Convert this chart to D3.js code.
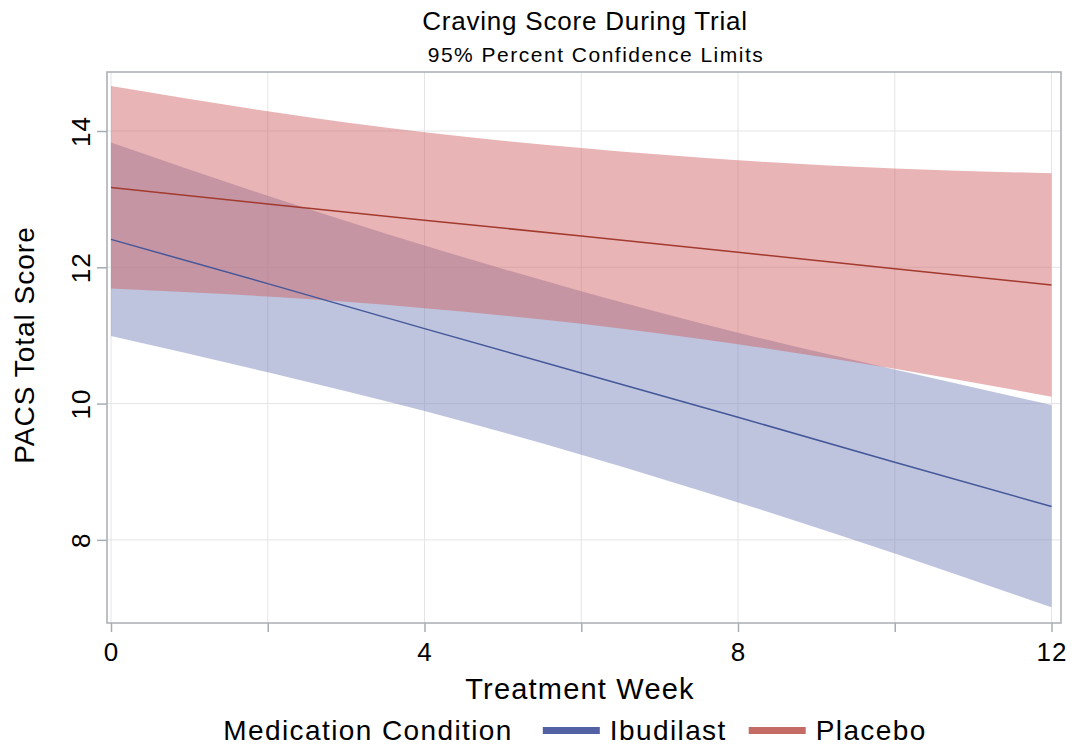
<!DOCTYPE html>
<html>
<head>
<meta charset="utf-8">
<script src="https://cdn.jsdelivr.net/npm/d3@7"></script>
<style>
  body { margin: 0; background: #fff; }
  svg text { font-family: "Liberation Sans", Arial, sans-serif; fill: #000; }
  .grid line { stroke: #e4e4e4; stroke-width: 1; }
  .axis path { display: none; }
  .axis line { stroke: #a8adb2; stroke-width: 1.5; }
</style>
</head>
<body>
<div id="chart"></div>
<script>
// values
const weeks = [0, 2, 4, 6, 8, 10, 12];
const ibudilastFit   = [12.41, 11.76, 11.10, 10.45, 9.80, 9.14, 8.49];
const ibudilastUpper = [13.83, 13.05, 12.32, 11.65, 11.04, 10.50, 9.98];
const ibudilastLower = [10.99, 10.46, 9.89, 9.25, 8.55, 7.80, 7.01];
const placeboFit     = [13.17, 12.93, 12.69, 12.46, 12.22, 11.98, 11.74];
const placeboUpper   = [14.66, 14.29, 13.98, 13.75, 13.57, 13.45, 13.38];
const placeboLower   = [11.69, 11.57, 11.40, 11.17, 10.87, 10.51, 10.10];

const xTicks = [0, 2, 4, 6, 8, 10, 12];
const xTickLabels = [0, 4, 8, 12];
const yTicks = [8, 10, 12, 14];
const groups = ["Ibudilast", "Placebo"];

const width = 1075, height = 747;
const frame = {left: 107, right: 1061, top: 72, bottom: 623};

const svg = d3.select("#chart").append("svg")
    .attr("width", width)
    .attr("height", height);

let xScale = d3.scaleLinear().domain([0, 12]).range([111, 1051.5]);
let yScale = d3.scaleLinear().domain([6.78, 14.866]).range([frame.bottom, frame.top]);

// grid
let grid = svg.append("g").attr("class", "grid");
grid.selectAll(".gx").data(xTicks).enter().append("line")
    .attr("x1", d => xScale(d)).attr("x2", d => xScale(d))
    .attr("y1", frame.top).attr("y2", frame.bottom);
grid.selectAll(".gy").data(yTicks).enter().append("line")
    .attr("x1", frame.left).attr("x2", frame.right)
    .attr("y1", d => yScale(d)).attr("y2", d => yScale(d));

// bands + fit lines
const series = [
    {name: "Ibudilast", fit: ibudilastFit, upper: ibudilastUpper, lower: ibudilastLower,
     band: "rgb(117,130,183)", line: "#44579a", key: "#5161a3"},
    {name: "Placebo", fit: placeboFit, upper: placeboUpper, lower: placeboLower,
     band: "rgb(208,96,98)", line: "#a23a2e", key: "#c46b66"}
];

let area = d3.area()
    .x(d => xScale(d.w))
    .y0(d => yScale(d.lo))
    .y1(d => yScale(d.hi))
    .curve(d3.curveMonotoneX);

let line = d3.line()
    .x(d => xScale(d.w))
    .y(d => yScale(d.v));

series.forEach(s => {
    let pts = weeks.map((w, i) => ({w: w, lo: s.lower[i], hi: s.upper[i]}));
    svg.append("path")
        .datum(pts)
        .attr("d", area)
        .attr("fill", s.band)
        .attr("fill-opacity", 0.47);
});
series.forEach(s => {
    let pts = weeks.map((w, i) => ({w: w, v: s.fit[i]}));
    svg.append("path")
        .datum(pts)
        .attr("d", line)
        .attr("fill", "none")
        .attr("stroke", s.line)
        .attr("stroke-width", 1.5);
});

// frame
svg.append("rect")
    .attr("x", frame.left).attr("y", frame.top)
    .attr("width", frame.right - frame.left)
    .attr("height", frame.bottom - frame.top)
    .attr("fill", "none")
    .attr("stroke", "#a8adb2")
    .attr("stroke-width", 1.5);

// axes
let xAxis = d3.axisBottom(xScale).tickValues(xTicks).tickSize(9).tickPadding(11)
    .tickFormat(d => xTickLabels.includes(d) ? d : "");
let xAx = svg.append("g").attr("class", "axis")
    .attr("transform", "translate(0," + frame.bottom + ")")
    .call(xAxis);
xAx.selectAll("text").style("font-size", "26px").style("letter-spacing", "1px");

let yAxis = d3.axisLeft(yScale).tickValues(yTicks).tickSize(10).tickPadding(0)
    .tickFormat(d => d);
let yAx = svg.append("g").attr("class", "axis")
    .attr("transform", "translate(" + frame.left + ",0)")
    .call(yAxis);
yAx.selectAll("text")
    .style("font-size", "26px")
    .style("letter-spacing", "1px")
    .attr("text-anchor", "middle")
    .attr("x", 0).attr("dy", 0)
    .attr("transform", "translate(-17.5,0) rotate(-90)");

// titles
svg.append("text")
    .text("Craving Score During Trial")
    .style("font-size", "26px")
    .style("letter-spacing", "0.8px")
    .style("text-anchor", "middle")
    .attr("x", 585).attr("y", 30);
svg.append("text")
    .text("95% Percent Confidence Limits")
    .style("font-size", "21px")
    .style("letter-spacing", "1.5px")
    .style("text-anchor", "middle")
    .attr("x", 596).attr("y", 62);

svg.append("text")
    .text("Treatment Week")
    .style("font-size", "29px")
    .style("letter-spacing", "1.2px")
    .style("text-anchor", "middle")
    .attr("x", 580).attr("y", 699);

svg.append("text")
    .text("PACS Total Score")
    .style("font-size", "28px")
    .style("letter-spacing", "1px")
    .style("text-anchor", "middle")
    .attr("transform", "translate(" + 34 + "," + 345 + ") rotate(270)");

// legend
let legend = svg.append("g");
let lx = 0;
let title = legend.append("text").text("Medication Condition")
    .style("font-size", "28px").style("letter-spacing", "1.4px")
    .attr("x", lx).attr("y", 0);
lx += title.node().getComputedTextLength() + 30;
series.forEach(s => {
    legend.append("rect")
        .attr("x", lx).attr("y", -13)
        .attr("width", 57).attr("height", 7)
        .attr("fill", s.key);
    lx += 67;
    let t = legend.append("text").text(s.name)
        .style("font-size", "28px").style("letter-spacing", "1.4px")
        .attr("x", lx).attr("y", 0);
    lx += t.node().getComputedTextLength() + 22;
});
lx -= 22;
legend.attr("transform", "translate(" + (575 - lx / 2) + ",740)");
</script>
</body>
</html>
